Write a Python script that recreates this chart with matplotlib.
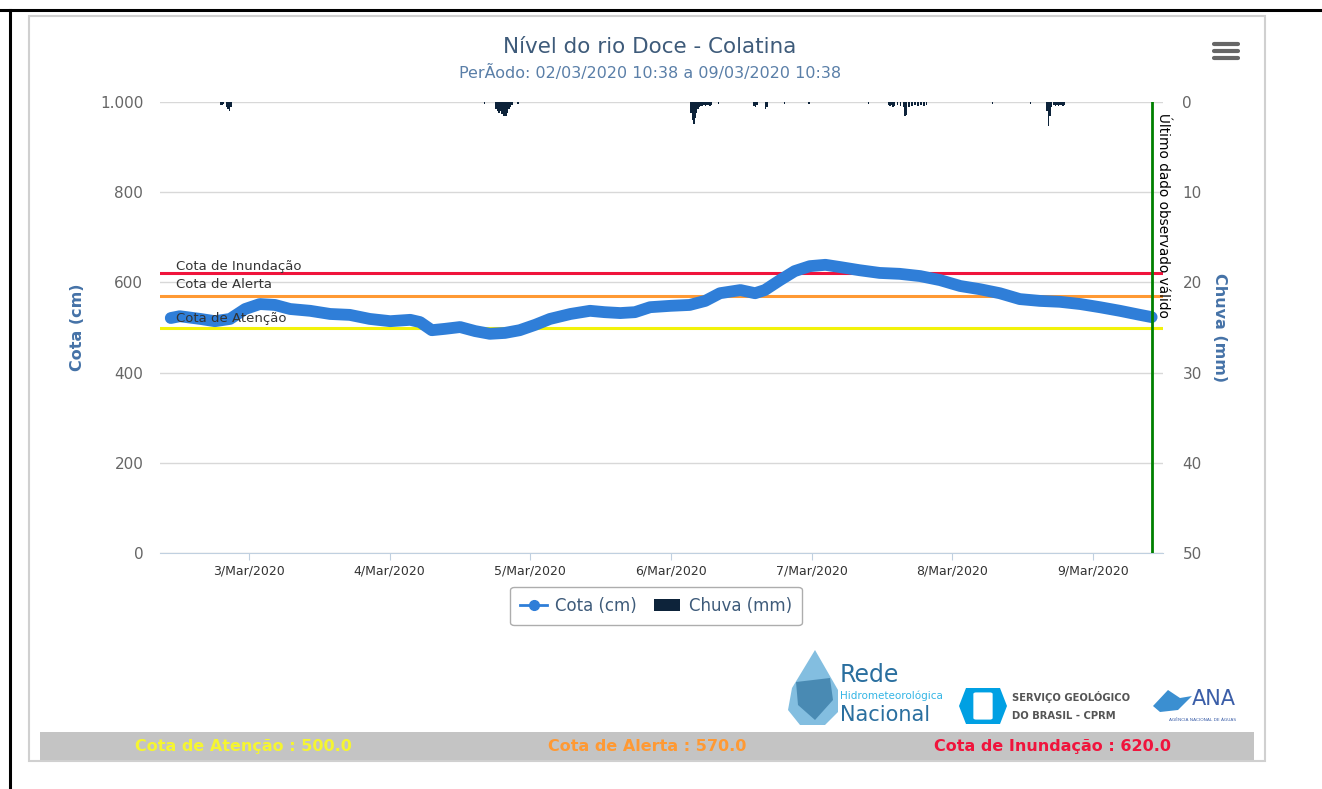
"""
Nível do rio Doce - Colatina: cota (cm) x chuva (mm), 02/03 a 09/03/2020.
Salva out.png (1322x789).
"""
import matplotlib
matplotlib.use("Agg")
import matplotlib.dates as mdates
import matplotlib.pyplot as plt
import pandas as pd
from matplotlib.lines import Line2D
from matplotlib.patches import FancyBboxPatch, Polygon, Rectangle

# --- dados --------------------------------------------------------------
cota_time = [
    "2020-03-02 10:38", "2020-03-02 12:10", "2020-03-02 15:40", "2020-03-02 18:10",
    "2020-03-02 20:45", "2020-03-02 23:20", "2020-03-03 01:50", "2020-03-03 04:25",
    "2020-03-03 07:00", "2020-03-03 10:25", "2020-03-03 13:50", "2020-03-03 17:10",
    "2020-03-03 20:35", "2020-03-04 00:05", "2020-03-04 03:30", "2020-03-04 05:10",
    "2020-03-04 07:10", "2020-03-04 09:25", "2020-03-04 12:00", "2020-03-04 14:35",
    "2020-03-04 17:05", "2020-03-04 19:40", "2020-03-04 22:10", "2020-03-05 00:50",
    "2020-03-05 03:20", "2020-03-05 06:50", "2020-03-05 10:10", "2020-03-05 12:40",
    "2020-03-05 15:20", "2020-03-05 17:50", "2020-03-05 20:25", "2020-03-05 23:50",
    "2020-03-06 03:10", "2020-03-06 05:50", "2020-03-06 08:20", "2020-03-06 11:50",
    "2020-03-06 14:20", "2020-03-06 16:00", "2020-03-06 18:35", "2020-03-06 21:05",
    "2020-03-06 23:40", "2020-03-07 02:20", "2020-03-07 04:50", "2020-03-07 08:10",
    "2020-03-07 11:35", "2020-03-07 15:00", "2020-03-07 18:30", "2020-03-07 21:55",
    "2020-03-08 01:20", "2020-03-08 04:40", "2020-03-08 08:05", "2020-03-08 11:30",
    "2020-03-08 14:55", "2020-03-08 18:20", "2020-03-08 21:50", "2020-03-09 01:10",
    "2020-03-09 04:35", "2020-03-09 08:00", "2020-03-09 10:00",
]
cota_cm = [
    521, 525, 519, 514, 519, 541, 552, 550, 541, 537, 530, 528, 519, 514, 517, 512,
    494, 497, 501, 492, 486, 488, 494, 506, 519, 530, 537, 534, 532, 534, 545, 548,
    550, 559, 576, 583, 576, 583, 605, 625, 636, 639, 634, 627, 621, 619, 614, 605,
    592, 585, 576, 563, 559, 557, 552, 545, 537, 528, 523,
]

chuva_time = [
    "2020-03-02 19:00", "2020-03-02 19:15", "2020-03-02 19:30", "2020-03-02 20:00",
    "2020-03-02 20:15", "2020-03-02 20:30", "2020-03-02 20:45",
    "2020-03-04 16:00",
    "2020-03-04 18:00", "2020-03-04 18:15", "2020-03-04 18:30", "2020-03-04 18:45",
    "2020-03-04 19:00", "2020-03-04 19:15", "2020-03-04 19:30", "2020-03-04 19:45",
    "2020-03-04 20:00", "2020-03-04 20:15", "2020-03-04 20:30", "2020-03-04 20:45",
    "2020-03-04 21:45",
    "2020-03-06 03:15", "2020-03-06 03:30", "2020-03-06 03:45", "2020-03-06 04:00",
    "2020-03-06 04:15", "2020-03-06 04:30", "2020-03-06 04:45", "2020-03-06 05:00",
    "2020-03-06 05:15", "2020-03-06 05:30", "2020-03-06 05:45", "2020-03-06 06:00",
    "2020-03-06 06:15", "2020-03-06 06:30", "2020-03-06 06:45", "2020-03-06 08:00",
    "2020-03-06 14:00", "2020-03-06 14:15", "2020-03-06 14:30",
    "2020-03-06 16:00", "2020-03-06 16:15", "2020-03-06 19:15", "2020-03-06 23:25",
    "2020-03-07 09:35",
    "2020-03-07 13:00", "2020-03-07 13:15", "2020-03-07 13:30", "2020-03-07 13:45",
    "2020-03-07 14:00", "2020-03-07 14:30", "2020-03-07 15:00", "2020-03-07 15:30",
    "2020-03-07 15:45", "2020-03-07 16:00", "2020-03-07 16:30", "2020-03-07 17:00",
    "2020-03-07 17:30", "2020-03-07 18:00", "2020-03-07 18:30", "2020-03-07 19:00",
    "2020-03-07 19:30",
    "2020-03-08 06:45", "2020-03-08 13:10",
    "2020-03-08 16:00", "2020-03-08 16:15", "2020-03-08 16:30", "2020-03-08 16:45",
    "2020-03-08 17:15", "2020-03-08 17:30", "2020-03-08 17:45", "2020-03-08 18:00",
    "2020-03-08 18:15", "2020-03-08 18:30", "2020-03-08 18:45", "2020-03-08 19:00",
]
chuva_mm = [
    0.3, 0.3, 0.2, 0.5, 0.8, 1.0, 0.6,
    0.2,
    0.8, 1.0, 1.2, 1.0, 1.3, 1.5, 1.6, 1.6, 1.2, 0.8, 0.5, 0.3,
    0.2,
    1.2, 2.0, 2.4, 1.8, 1.2, 0.8, 0.6, 0.4, 0.4, 0.3, 0.4, 0.3, 0.3, 0.4, 0.3, 0.2,
    0.4, 0.5, 0.3,
    0.8, 0.6, 0.2, 0.2,
    0.2,
    0.3, 0.4, 0.3, 0.5, 0.4, 0.3, 0.4, 0.6, 1.5, 1.4, 0.5, 0.4, 0.3, 0.4, 0.3, 0.4,
    0.3,
    0.2, 0.2,
    1.0, 2.7, 1.5, 0.5, 0.3, 0.4, 0.3, 0.4, 0.3, 0.3, 0.4, 0.3,
]

cotas_ref = {"Cota de Atenção": 500.0, "Cota de Alerta": 570.0, "Cota de Inundação": 620.0}
cores_ref = {"Cota de Atenção": "#f2f20a", "Cota de Alerta": "#ff9933", "Cota de Inundação": "#f0143c"}
cores_txt = {"Cota de Atenção": "#f5f531", "Cota de Alerta": "#ff9933", "Cota de Inundação": "#f0143c"}

ultimo_dado = "2020-03-09 10:00"
x_ini, x_fim = "2020-03-02 08:48", "2020-03-09 11:56"
cota_ticks = [0, 200, 400, 600, 800, 1000]
cota_ticklabels = ["0", "200", "400", "600", "800", "1.000"]
chuva_ticks = [0, 10, 20, 30, 40, 50]

W, H = 1322, 789
AZUL = "#2f7ed8"
NAVY = "#0d233a"
TITULO = "#3e5b7a"


def px(x, y):
    """pixel (x, y a partir do topo) -> fração da figura"""
    return x / W, 1 - y / H


fig = plt.figure(figsize=(W / 100, H / 100), dpi=100)
plt.rcParams["font.family"] = ["DejaVu Sans"]

# moldura
fig.add_artist(Line2D([0, 1], [1 - 10 / H] * 2, color="black", lw=2.2))
fig.add_artist(Line2D([10 / W] * 2, [0, 1 - 10 / H], color="black", lw=2.2))
fig.add_artist(Rectangle(px(29, 761), (1265 - 29) / W, (761 - 16) / H,
                         fill=False, ec="#d0d0d0", lw=1.5))

# eixos principais
l, b = px(160, 553)
ax = fig.add_axes([l, b, (1163 - 160) / W, (553 - 102) / H])
ax2 = ax.twinx()

t_cota = pd.to_datetime(cota_time)
t_chuva = pd.to_datetime(chuva_time)

ax.set_xlim(pd.Timestamp(x_ini), pd.Timestamp(x_fim))
ax.set_ylim(0, 1000)
ax.set_yticks(cota_ticks, cota_ticklabels)
ax.grid(axis="y", color="#d8d8d8", lw=1)
ax.set_axisbelow(True)
for s in ["top", "right", "left"]:
    ax.spines[s].set_visible(False)
    ax2.spines[s].set_visible(False)
ax2.spines["bottom"].set_visible(False)
ax.spines["bottom"].set_color("#c0d0e0")
ax.tick_params(axis="y", length=0, labelsize=11, labelcolor="#666666", pad=12)
ax.tick_params(axis="x", length=5, color="#c0d0e0", labelsize=9, labelcolor="#333333")
ax.xaxis.set_major_locator(mdates.DayLocator())
ax.xaxis.set_major_formatter(mdates.DateFormatter("%-d/%b/%Y"))
ax.set_ylabel("Cota (cm)", color="#4572a7", fontsize=11.5, fontweight="bold", labelpad=11)

# linhas de referência
for nome, valor in cotas_ref.items():
    ax.axhline(valor, color=cores_ref[nome], lw=2.2, zorder=2)
ax.text(pd.Timestamp("2020-03-02 11:30"), 620 + 8, "Cota de Inundação", fontsize=9.5, color="#333333")
ax.text(pd.Timestamp("2020-03-02 11:30"), 570 + 18, "Cota de Alerta", fontsize=9.5, color="#333333")
ax.text(pd.Timestamp("2020-03-02 11:30"), 500 + 12, "Cota de Atenção", fontsize=9.5, color="#333333", zorder=5)

ax.plot(t_cota, cota_cm, color=AZUL, lw=8.5, solid_capstyle="round", solid_joinstyle="round", zorder=4)

# chuva (eixo invertido, barras penduradas no topo)
ax2.bar(t_chuva, chuva_mm, width=15 / 1440, color=NAVY, align="edge", lw=0)
ax2.set_ylim(50, 0)
ax2.set_yticks(chuva_ticks)
ax2.tick_params(axis="y", length=0, labelsize=11, labelcolor="#666666", pad=14)
ax2.set_ylabel("Chuva (mm)", color="#4572a7", fontsize=11.5, fontweight="bold",
               rotation=-90, labelpad=18)

# último dado válido
ax.axvline(pd.Timestamp(ultimo_dado), color="#008000", lw=2, zorder=6)
ax.text(pd.Timestamp(ultimo_dado) + pd.Timedelta(minutes=40), 975, "Último dado observado válido",
        rotation=-90, va="top", ha="left", fontsize=9.8, color="black", zorder=6)

# legenda
leg_h = [Line2D([], [], color=AZUL, lw=2, marker="o", ms=7),
         Rectangle((0, 0), 1, 1, fc=NAVY)]
leg = fig.legend(leg_h, ["Cota (cm)", "Chuva (mm)"], loc="center",
                 bbox_to_anchor=px(656, 606), ncol=2, fontsize=12, frameon=True,
                 handlelength=1.6, columnspacing=1.0, handletextpad=0.5,
                 borderpad=0.6, fancybox=True)
for t in leg.get_texts():
    t.set_color(TITULO)
leg.get_frame().set_edgecolor("#999999")
leg.get_frame().set_linewidth(1)

# títulos
fig.text(*px(650, 47), "Nível do rio Doce - Colatina", ha="center", va="center",
         fontsize=15.5, color=TITULO)
fig.text(*px(650, 73), "PerÃodo: 02/03/2020 10:38 a 09/03/2020 10:38", ha="center",
         va="center", fontsize=11.5, color="#5a7fa8")

# ícone de menu
for yy in [44, 51, 58]:
    fig.add_artist(Line2D([1214 / W, 1238 / W], [1 - yy / H] * 2, color="#666666",
                          lw=3, solid_capstyle="round"))

# logos (aproximação)
gota = Polygon([px(815, 650), px(838, 690), px(838, 712), px(825, 725),
                px(800, 725), px(788, 710), px(792, 688)],
               closed=True, fc="#5aa9d6", ec="none", alpha=0.75, transform=fig.transFigure)
fig.add_artist(gota)
fig.add_artist(Polygon([px(796, 682), px(830, 678), px(833, 700), px(815, 720), px(798, 705)],
                       closed=True, fc="#3b7ea8", ec="none", alpha=0.8, transform=fig.transFigure))
fig.text(*px(840, 675), "Rede", fontsize=17, color="#2a6f9f", va="center")
fig.text(*px(840, 696), "Hidrometeorológica", fontsize=7.5, color="#33b5e5", va="center")
fig.text(*px(840, 715), "Nacional", fontsize=15, color="#2a6f9f", va="center")

fig.add_artist(Polygon([px(966, 688), px(1000, 688), px(1007, 706), px(1000, 724),
                        px(966, 724), px(959, 706)],
                       closed=True, fc="#00a0e3", ec="none", transform=fig.transFigure))
fig.add_artist(FancyBboxPatch(px(976, 718), 14 / W, 24 / H, boxstyle="round,pad=0.002",
                              fc="white", ec="none", transform=fig.transFigure))
fig.text(*px(1012, 697), "SERVIÇO GEOLÓGICO", fontsize=7.2, fontweight="bold",
         color="#555555", va="center")
fig.text(*px(1012, 716), "DO BRASIL - CPRM", fontsize=7.2, fontweight="bold",
         color="#555555", va="center")

fig.add_artist(Polygon([px(1153, 706), px(1168, 690), px(1180, 698), px(1192, 696),
                        px(1178, 710), px(1160, 712)],
                       closed=True, fc="#3b8fd1", ec="none", transform=fig.transFigure))
fig.text(*px(1192, 699), "ANA", fontsize=15, color="#3b5ea8", va="center")
fig.text(*px(1203, 720), "AGÊNCIA NACIONAL DE ÁGUAS", fontsize=3.2, color="#3b5ea8",
         va="center", ha="center")

# faixa inferior
fig.add_artist(Rectangle(px(40, 760), (1254 - 40) / W, 28 / H, fc="#c4c4c4", ec="none"))
for nome, xc in zip(cotas_ref, [243, 647, 1052]):
    fig.text(*px(xc, 751), f"{nome} : {cotas_ref[nome]:.1f}", ha="center", va="baseline",
             fontsize=11.5, fontweight="bold", color=cores_txt[nome])

fig.savefig("out.png", dpi=100)
